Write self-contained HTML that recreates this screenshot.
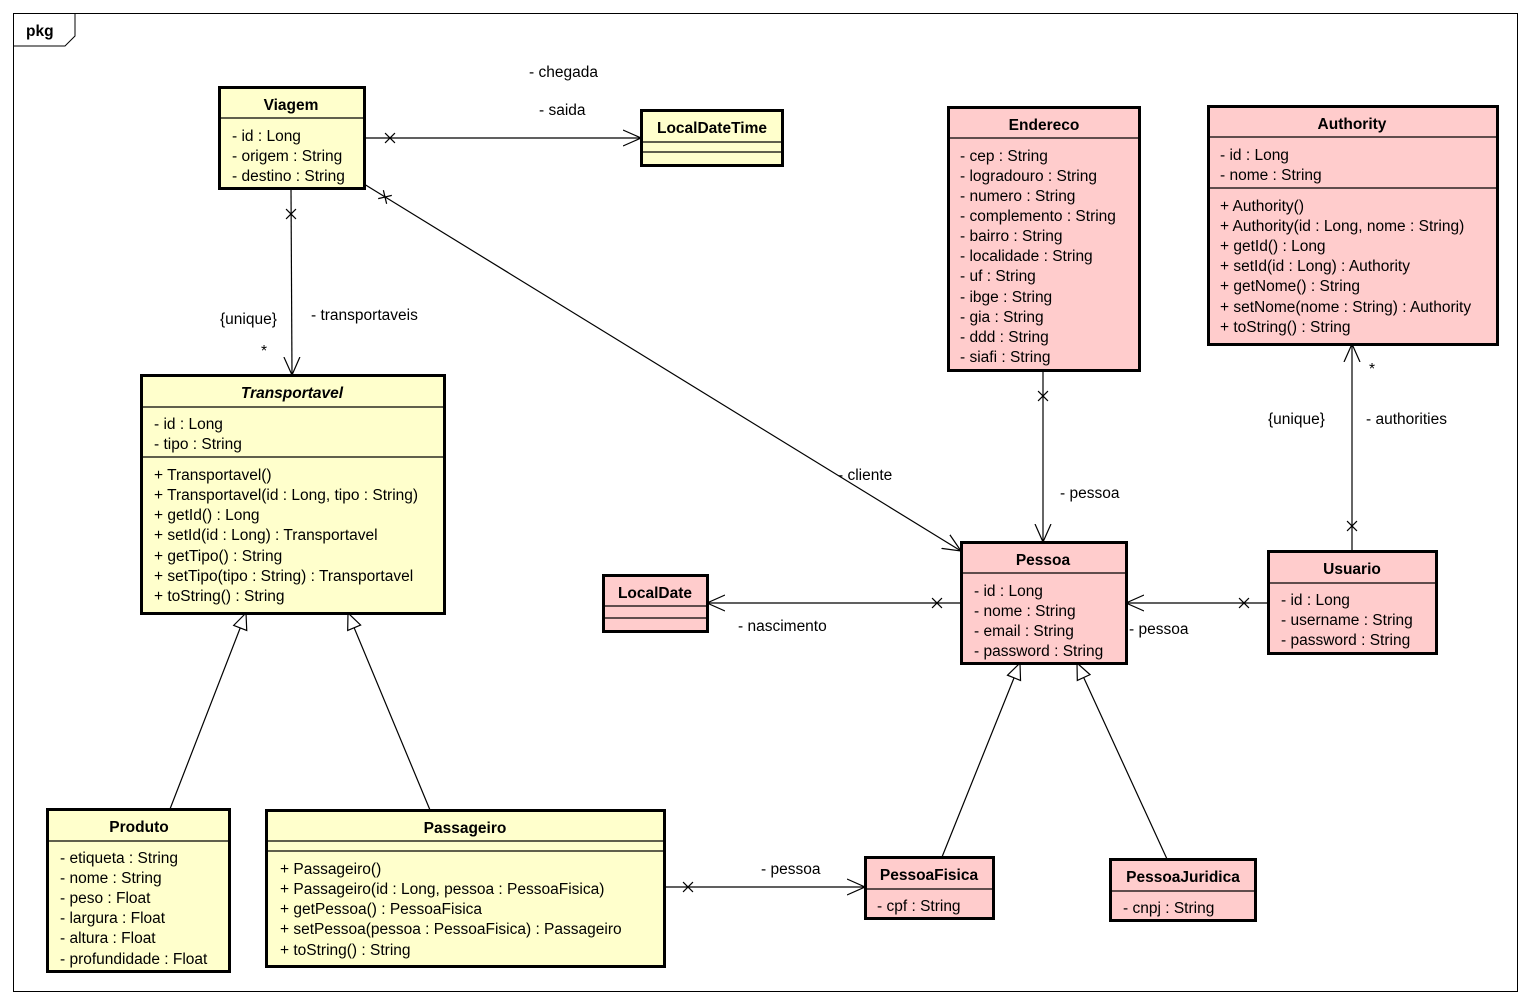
<!DOCTYPE html>
<html><head><meta charset="utf-8"><style>
html,body{margin:0;padding:0;background:#fff}
svg{display:block}
text{font-family:"Liberation Sans",Arial,sans-serif;font-size:15.5px;fill:#000}
.b{font-weight:bold}
.y{fill:#FFFFCC;stroke:#000;stroke-width:3}
.p{fill:#FFCCCC;stroke:#000;stroke-width:3}
.d{stroke:#000;stroke-width:1.2}
.l{stroke:#000;stroke-width:1.2;fill:none}
</style></head><body>
<svg width="1530" height="1005" viewBox="0 0 1530 1005" xmlns="http://www.w3.org/2000/svg">
<defs>
<marker id="oa" markerWidth="20" markerHeight="20" refX="18" refY="10" orient="auto" markerUnits="userSpaceOnUse">
<path d="M0,2 L18,10 L0,18" fill="none" stroke="#000" stroke-width="1.2"/></marker>
<marker id="tri" markerWidth="20" markerHeight="20" refX="18" refY="10" orient="auto" markerUnits="userSpaceOnUse">
<path d="M2,3 L18,10 L2,17 Z" fill="#fff" stroke="#000" stroke-width="1.2"/></marker>
</defs>
<rect x="13.5" y="13.5" width="1504" height="978" fill="#fff" stroke="#000" stroke-width="1"/>
<path d="M13.5,46 L65,46 L75,36 L75,13.5" fill="none" stroke="#000" stroke-width="1"/>
<text x="26" y="36" class="b">pkg</text>

<!-- connectors -->
<line class="l" x1="364" y1="138" x2="641" y2="138" marker-end="url(#oa)"/>
<g transform="translate(390,138) rotate(45)"><line class="d" x1="-7" y1="0" x2="7" y2="0"/><line class="d" x1="0" y1="-7" x2="0" y2="7"/></g>
<text x="529" y="77">- chegada</text>
<text x="539" y="115">- saida</text>

<line class="l" x1="291" y1="188" x2="292" y2="375" marker-end="url(#oa)"/>
<g transform="translate(291,214) rotate(45)"><line class="d" x1="-7" y1="0" x2="7" y2="0"/><line class="d" x1="0" y1="-7" x2="0" y2="7"/></g>
<text x="220" y="324">{unique}</text>
<text x="261" y="356">*</text>
<text x="311" y="320">- transportaveis</text>

<line class="l" x1="364" y1="184" x2="961" y2="551" marker-end="url(#oa)"/>
<g transform="translate(385,197) rotate(76.6)"><line class="d" x1="-7" y1="0" x2="7" y2="0"/><line class="d" x1="0" y1="-7" x2="0" y2="7"/></g>
<text x="838" y="480">- cliente</text>

<line class="l" x1="1043" y1="370" x2="1043" y2="542" marker-end="url(#oa)"/>
<g transform="translate(1043,396) rotate(45)"><line class="d" x1="-7" y1="0" x2="7" y2="0"/><line class="d" x1="0" y1="-7" x2="0" y2="7"/></g>
<text x="1060" y="498">- pessoa</text>

<line class="l" x1="1352" y1="551" x2="1352" y2="344" marker-end="url(#oa)"/>
<g transform="translate(1352,526) rotate(45)"><line class="d" x1="-7" y1="0" x2="7" y2="0"/><line class="d" x1="0" y1="-7" x2="0" y2="7"/></g>
<text x="1369" y="374">*</text>
<text x="1268" y="424">{unique}</text>
<text x="1366" y="424">- authorities</text>

<line class="l" x1="1268" y1="603" x2="1126" y2="603" marker-end="url(#oa)"/>
<g transform="translate(1244,603) rotate(45)"><line class="d" x1="-7" y1="0" x2="7" y2="0"/><line class="d" x1="0" y1="-7" x2="0" y2="7"/></g>
<text x="1129" y="634">- pessoa</text>

<line class="l" x1="961" y1="603" x2="707" y2="603" marker-end="url(#oa)"/>
<g transform="translate(937,603) rotate(45)"><line class="d" x1="-7" y1="0" x2="7" y2="0"/><line class="d" x1="0" y1="-7" x2="0" y2="7"/></g>
<text x="738" y="631">- nascimento</text>

<line class="l" x1="664" y1="887" x2="865" y2="887" marker-end="url(#oa)"/>
<g transform="translate(688,887) rotate(45)"><line class="d" x1="-7" y1="0" x2="7" y2="0"/><line class="d" x1="0" y1="-7" x2="0" y2="7"/></g>
<text x="761" y="874">- pessoa</text>

<line class="l" x1="170" y1="809" x2="246" y2="613" marker-end="url(#tri)"/>
<line class="l" x1="430" y1="810" x2="348" y2="613" marker-end="url(#tri)"/>
<line class="l" x1="942" y1="857" x2="1020" y2="663" marker-end="url(#tri)"/>
<line class="l" x1="1167" y1="859" x2="1077" y2="663" marker-end="url(#tri)"/>

<!-- Viagem -->
<rect class="y" x="219.5" y="87.5" width="145" height="101"/>
<line class="d" x1="219" y1="118" x2="364" y2="118"/>
<text x="291" y="110" class="b" text-anchor="middle">Viagem</text>
<text x="232" y="141">- id : Long</text>
<text x="232" y="161">- origem : String</text>
<text x="232" y="181">- destino : String</text>

<!-- LocalDateTime -->
<rect class="y" x="641.5" y="110.5" width="141" height="55"/>
<line class="d" x1="641" y1="142" x2="783" y2="142"/>
<line class="d" x1="641" y1="152" x2="783" y2="152"/>
<text x="712" y="133" class="b" text-anchor="middle">LocalDateTime</text>

<!-- Endereco -->
<rect class="p" x="948.5" y="107.5" width="191" height="263"/>
<line class="d" x1="948" y1="138" x2="1140" y2="138"/>
<text x="1044" y="130" class="b" text-anchor="middle">Endereco</text>
<text x="960" y="161">- cep : String</text>
<text x="960" y="181">- logradouro : String</text>
<text x="960" y="201">- numero : String</text>
<text x="960" y="221">- complemento : String</text>
<text x="960" y="241">- bairro : String</text>
<text x="960" y="261">- localidade : String</text>
<text x="960" y="281">- uf : String</text>
<text x="960" y="302">- ibge : String</text>
<text x="960" y="322">- gia : String</text>
<text x="960" y="342">- ddd : String</text>
<text x="960" y="362">- siafi : String</text>

<!-- Authority -->
<rect class="p" x="1208.5" y="106.5" width="289" height="238"/>
<line class="d" x1="1208" y1="137" x2="1497" y2="137"/>
<line class="d" x1="1208" y1="188" x2="1497" y2="188"/>
<text x="1352" y="129" class="b" text-anchor="middle">Authority</text>
<text x="1220" y="160">- id : Long</text>
<text x="1220" y="180">- nome : String</text>
<text x="1220" y="211">+ Authority()</text>
<text x="1220" y="231">+ Authority(id : Long, nome : String)</text>
<text x="1220" y="251">+ getId() : Long</text>
<text x="1220" y="271">+ setId(id : Long) : Authority</text>
<text x="1220" y="291">+ getNome() : String</text>
<text x="1220" y="312">+ setNome(nome : String) : Authority</text>
<text x="1220" y="332">+ toString() : String</text>

<!-- Transportavel -->
<rect class="y" x="141.5" y="375.5" width="303" height="238"/>
<line class="d" x1="141" y1="407" x2="444" y2="407"/>
<line class="d" x1="141" y1="457" x2="444" y2="457"/>
<text x="292" y="398" class="b" text-anchor="middle" font-style="italic">Transportavel</text>
<text x="154" y="429">- id : Long</text>
<text x="154" y="449">- tipo : String</text>
<text x="154" y="480">+ Transportavel()</text>
<text x="154" y="500">+ Transportavel(id : Long, tipo : String)</text>
<text x="154" y="520">+ getId() : Long</text>
<text x="154" y="540">+ setId(id : Long) : Transportavel</text>
<text x="154" y="561">+ getTipo() : String</text>
<text x="154" y="581">+ setTipo(tipo : String) : Transportavel</text>
<text x="154" y="601">+ toString() : String</text>

<!-- LocalDate -->
<rect class="p" x="603.5" y="575.5" width="104" height="56"/>
<line class="d" x1="603" y1="606" x2="707" y2="606"/>
<line class="d" x1="603" y1="618" x2="707" y2="618"/>
<text x="655" y="598" class="b" text-anchor="middle">LocalDate</text>

<!-- Pessoa -->
<rect class="p" x="961.5" y="542.5" width="165" height="121"/>
<line class="d" x1="961" y1="573" x2="1126" y2="573"/>
<text x="1043" y="565" class="b" text-anchor="middle">Pessoa</text>
<text x="974" y="596">- id : Long</text>
<text x="974" y="616">- nome : String</text>
<text x="974" y="636">- email : String</text>
<text x="974" y="656">- password : String</text>

<!-- Usuario -->
<rect class="p" x="1268.5" y="551.5" width="168" height="102"/>
<line class="d" x1="1268" y1="583" x2="1436" y2="583"/>
<text x="1352" y="574" class="b" text-anchor="middle">Usuario</text>
<text x="1281" y="605">- id : Long</text>
<text x="1281" y="625">- username : String</text>
<text x="1281" y="645">- password : String</text>

<!-- Produto -->
<rect class="y" x="47.5" y="809.5" width="182" height="162"/>
<line class="d" x1="47" y1="841" x2="229" y2="841"/>
<text x="139" y="832" class="b" text-anchor="middle">Produto</text>
<text x="60" y="863">- etiqueta : String</text>
<text x="60" y="883">- nome : String</text>
<text x="60" y="903">- peso : Float</text>
<text x="60" y="923">- largura : Float</text>
<text x="60" y="943">- altura : Float</text>
<text x="60" y="964">- profundidade : Float</text>

<!-- Passageiro -->
<rect class="y" x="266.5" y="810.5" width="398" height="156"/>
<line class="d" x1="266" y1="841" x2="664" y2="841"/>
<line class="d" x1="266" y1="851" x2="664" y2="851"/>
<text x="465" y="833" class="b" text-anchor="middle">Passageiro</text>
<text x="280" y="874">+ Passageiro()</text>
<text x="280" y="894">+ Passageiro(id : Long, pessoa : PessoaFisica)</text>
<text x="280" y="914">+ getPessoa() : PessoaFisica</text>
<text x="280" y="934">+ setPessoa(pessoa : PessoaFisica) : Passageiro</text>
<text x="280" y="955">+ toString() : String</text>

<!-- PessoaFisica -->
<rect class="p" x="865.5" y="857.5" width="128" height="61"/>
<line class="d" x1="865" y1="889" x2="993" y2="889"/>
<text x="929" y="880" class="b" text-anchor="middle">PessoaFisica</text>
<text x="877" y="911">- cpf : String</text>

<!-- PessoaJuridica -->
<rect class="p" x="1110.5" y="859.5" width="145" height="61"/>
<line class="d" x1="1110" y1="891" x2="1255" y2="891"/>
<text x="1183" y="882" class="b" text-anchor="middle">PessoaJuridica</text>
<text x="1123" y="913">- cnpj : String</text>
</svg>
</body></html>
